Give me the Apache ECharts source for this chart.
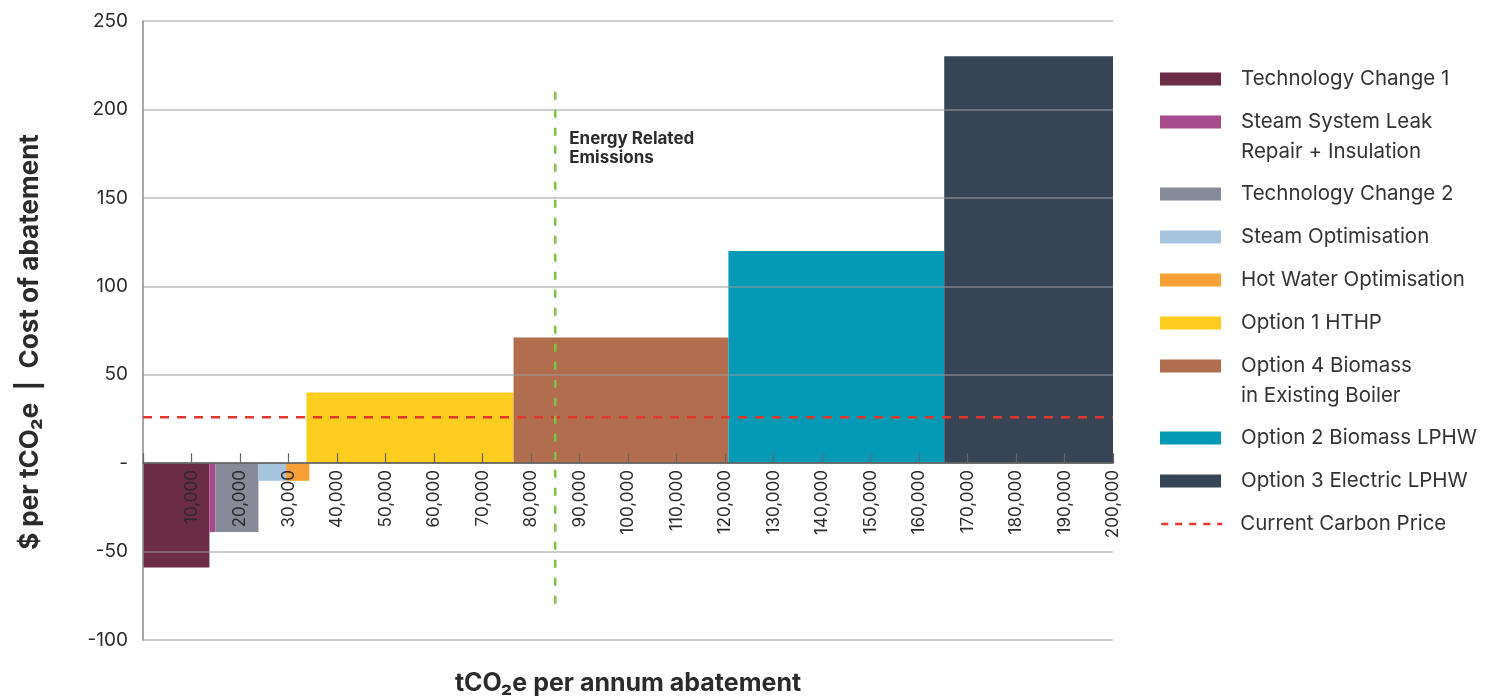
<!DOCTYPE html>
<html>
<head>
<meta charset="utf-8">
<title>Marginal abatement cost curve</title>
<script src="https://cdn.jsdelivr.net/npm/echarts@6/dist/echarts.min.js"></script>
<style>
  html, body { margin: 0; padding: 0; background: #ffffff; }
  #chart { width: 1502px; height: 697px; }
</style>
</head>
<body>
<div id="chart"></div>
<script>
// Abatement measures, in the order they sit along the curve
const measureNames = [
  'Technology Change 1',
  'Steam System Leak Repair + Insulation',
  'Technology Change 2',
  'Steam Optimisation',
  'Hot Water Optimisation',
  'Option 1 HTHP',
  'Option 4 Biomass in Existing Boiler',
  'Option 2 Biomass LPHW',
  'Option 3 Electric LPHW'
];
// Legend wording (two-line entries break where the printed legend does)
const legendLabels = [
  'Technology Change 1',
  'Steam System Leak\nRepair + Insulation',
  'Technology Change 2',
  'Steam Optimisation',
  'Hot Water Optimisation',
  'Option 1 HTHP',
  'Option 4 Biomass\nin Existing Boiler',
  'Option 2 Biomass LPHW',
  'Option 3 Electric LPHW'
];
// Cumulative abatement where each block starts and ends (tCO2e per annum)
const abatementStart = [0, 13700, 14900, 23800, 29500, 33700, 76400, 120700, 165200];
const abatementEnd   = [13700, 14900, 23800, 29500, 34300, 76400, 120700, 165200, 200000];
// Cost of abatement ($ per tCO2e)
const abatementCost  = [-59, -39, -39, -10, -10, 40, 71, 120, 230];

// Reference lines
const carbonPriceName = 'Current Carbon Price';
const carbonPrice = 26;
const energyBoundary = 85000;          // end of energy related emissions
const energyLineSpan = [-80, 210];     // vertical extent of the boundary line
const energyLabelText = 'Energy Related\nEmissions';
const energyLabelAt = 178;

// Axis scales
const xRange = [0, 200000];
const xStep = 10000;
const yRange = [-100, 250];
const yStep = 50;

// Styling and layout
const measureColors = ['#6b2c46', '#a84b8c', '#878a98', '#a6c4de', '#f8a038',
                       '#fccd1f', '#b06e4f', '#049ab5', '#374455'];
const FONT = 'Inter, "Open Sans", "DejaVu Sans", sans-serif';
const legendCentres = [79, 122, 194, 237, 280, 323, 366, 438, 481, 524];
const CHART_H = 697;
const GRID = { left: 143, right: 389, top: 21, bottom: 57 };
// The abatement axis runs along the zero cost line, so lift it from the grid's bottom edge
const gridHeight = CHART_H - GRID.top - GRID.bottom;
const zeroLift = gridHeight * (0 - yRange[0]) / (yRange[1] - yRange[0]);

const chart = echarts.init(document.getElementById('chart'), null, { renderer: 'canvas' });

function renderBlock(params, api) {
  const topLeft = api.coord([api.value(0), api.value(2)]);
  const bottomRight = api.coord([api.value(1), 0]);
  const y = Math.min(topLeft[1], bottomRight[1]);
  return {
    type: 'rect',
    shape: {
      x: topLeft[0],
      y: y,
      width: bottomRight[0] - topLeft[0],
      height: Math.abs(bottomRight[1] - topLeft[1])
    },
    style: api.style()
  };
}

const series = measureNames.map((name, i) => ({
  name: name,
  type: 'custom',
  renderItem: renderBlock,
  encode: { x: [0, 1], y: 2 },
  itemStyle: { color: measureColors[i] },
  z: 2,
  data: [[abatementStart[i], abatementEnd[i], abatementCost[i]]]
}));

series.push({
  name: carbonPriceName,
  type: 'line',
  symbol: 'none',
  z: 8,
  lineStyle: { color: '#e0392b', width: 2.5, type: [9, 8] },
  itemStyle: { color: '#e0392b' },
  data: [[xRange[0], carbonPrice], [xRange[1], carbonPrice]]
});

series.push({
  name: 'Energy Related Emissions',
  type: 'line',
  symbol: 'none',
  z: 8,
  lineStyle: { color: '#7cc444', width: 2.5, type: [8, 10] },
  data: [[energyBoundary, energyLineSpan[1]], [energyBoundary, energyLineSpan[0]]],
  markPoint: {
    symbol: 'circle',
    symbolSize: 0,
    silent: true,
    data: [{ coord: [energyBoundary, energyLabelAt] }],
    label: {
      show: true,
      position: 'right',
      distance: 14,
      formatter: energyLabelText,
      fontFamily: FONT,
      fontSize: 17,
      fontWeight: 'bold',
      lineHeight: 19,
      color: '#2b2b2b',
      align: 'left'
    }
  }
});

const legendNames = measureNames.concat([carbonPriceName]);
const legendText = legendLabels.concat([carbonPriceName]);

const legends = legendNames.map((name, i) => {
  const twoLine = legendText[i].indexOf('\n') >= 0;
  const isLine = name === carbonPriceName;
  // a leading empty line keeps the swatch level with the first line of text
  const label = twoLine ? '\n' + legendText[i] : legendText[i];
  const boxH = twoLine ? 90 : 30;
  const entry = {
    data: [name],
    orient: 'vertical',
    left: 1160,
    top: legendCentres[i] - boxH / 2,
    padding: 0,
    itemWidth: 61,
    itemHeight: 13,
    selectedMode: false,
    formatter: () => label,
    textStyle: {
      fontFamily: FONT,
      fontSize: 20.5,
      lineHeight: 30,
      color: '#333333',
      padding: [0, 0, 0, isLine ? 13 : 15]
    }
  };
  if (isLine) {
    entry.lineStyle = { type: [7, 7], width: 2.5, color: '#e0392b' };
    entry.itemStyle = { color: 'rgba(0,0,0,0)', borderWidth: 0 };
  } else {
    entry.icon = 'rect';
  }
  return entry;
});

chart.setOption({
  animation: false,
  backgroundColor: '#ffffff',
  grid: Object.assign({ containLabel: false, outerBoundsMode: 'none' }, GRID),
  legend: legends,
  xAxis: {
    type: 'value',
    min: xRange[0],
    max: xRange[1],
    interval: xStep,
    z: 5,
    position: 'bottom',
    offset: -zeroLift,
    axisLine: { onZero: false, lineStyle: { color: '#5a5a5a', width: 1.5 } },
    axisTick: { show: true, inside: true, length: 10, lineStyle: { color: '#666666', width: 1.2 } },
    axisLabel: {
      rotate: 90,
      interval: 0,
      margin: 7,
      fontFamily: FONT,
      fontSize: 17,
      color: '#2b2b2b',
      formatter: v => (v === 0 ? '' : v.toLocaleString('en-US'))
    },
    splitLine: { show: false }
  },
  yAxis: {
    type: 'value',
    min: yRange[0],
    max: yRange[1],
    interval: yStep,
    z: 5,
    axisLine: { show: true, onZero: false, lineStyle: { color: '#8a8a8a', width: 1.5 } },
    axisTick: { show: false },
    axisLabel: {
      margin: 15,
      fontFamily: FONT,
      fontSize: 19,
      color: '#2b2b2b',
      formatter: v => (v === 0 ? '-' : String(v))
    },
    splitLine: { show: true, lineStyle: { color: 'rgba(155,155,160,0.67)', width: 1.5 } }
  },
  graphic: [
    {
      type: 'text',
      x: 30,
      y: 342,
      rotation: Math.PI / 2,
      style: {
        text: '$ per tCO₂e  |  Cost of abatement',
        fontFamily: FONT,
        fontSize: 26,
        fontWeight: 'bold',
        fill: '#2b2b2b',
        align: 'center',
        verticalAlign: 'middle'
      }
    },
    {
      type: 'text',
      x: 628,
      y: 683,
      style: {
        text: 'tCO₂e per annum abatement',
        fontFamily: FONT,
        fontSize: 25,
        fontWeight: 'bold',
        fill: '#2b2b2b',
        align: 'center',
        verticalAlign: 'middle'
      }
    }
  ],
  series: series
});
</script>
</body>
</html>
